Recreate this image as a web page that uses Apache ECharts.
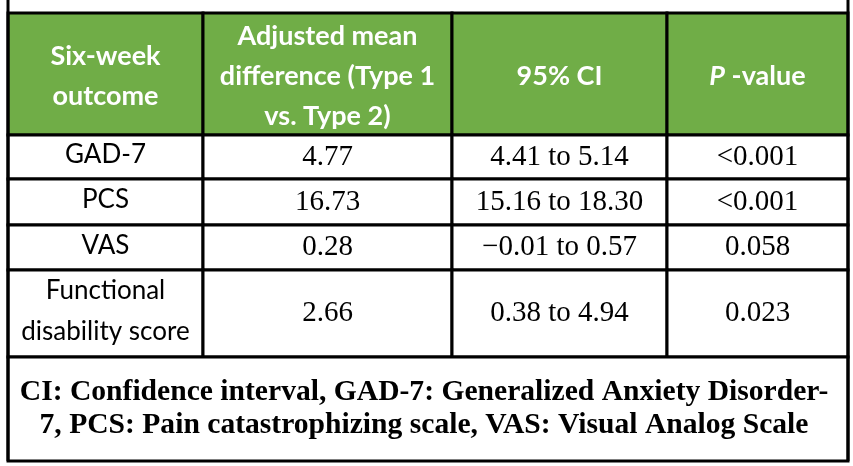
<!DOCTYPE html>
<html>
<head>
<meta charset="utf-8">
<script src="https://cdn.jsdelivr.net/npm/echarts@6/dist/echarts.min.js"></script>
<style>
	html, body { margin: 0; padding: 0; background: #fff; }
	#container { width: 853px; height: 466px; }
</style>
</head>
<body>
<div id="container"></div>
<script>
	// 表格数据
	var headers = ['Six-week\noutcome', 'Adjusted mean\ndifference (Type 1\nvs. Type 2)', '95% CI', '{i|P}{n| -value}'];
	var outcomes = ['GAD-7', 'PCS', 'VAS', 'Functional\ndisability score'];
	var meanDiff = [4.77, 16.73, 0.28, 2.66];
	var ciLow = [4.41, 15.16, -0.01, 0.38];
	var ciHigh = [5.14, 18.30, 0.57, 4.94];
	var pValues = ['<0.001', '<0.001', '0.058', '0.023'];
	var footnote = 'CI: Confidence interval, GAD-7: Generalized Anxiety Disorder-\n7, PCS: Pain catastrophizing scale, VAS: Visual Analog Scale';

	// 版式 (grid 坐标)
	var colEdges = [0, 195, 444, 659, 840];
	var rowEdges = [0, 122, 166, 212, 257, 344, 448];
	var green = '#70AD47';

	function fmt(v) {
		var s = v.toFixed(2);
		return v < 0 ? '\u2212' + s.slice(1) : s;
	}

	// 单元格: [col0, col1, row, text]
	var cells = [];
	headers.forEach(function (h, c) { cells.push([c, c + 1, 0, h]); });
	outcomes.forEach(function (o, i) {
		var r = i + 1;
		cells.push([0, 1, r, o]);
		cells.push([1, 2, r, fmt(meanDiff[i])]);
		cells.push([2, 3, r, fmt(ciLow[i]) + ' to ' + fmt(ciHigh[i])]);
		cells.push([3, 4, r, pValues[i]]);
	});
	cells.push([0, 4, 5, footnote]);

	function renderCell(params, api) {
		var c0 = api.value(0), c1 = api.value(1), r = api.value(2);
		var text = cells[params.dataIndex][3];
		var p0 = api.coord([colEdges[c0], rowEdges[r]]);
		var p1 = api.coord([colEdges[c1], rowEdges[r + 1]]);
		var w = p1[0] - p0[0], h = p1[1] - p0[1];
		var cx = p0[0] + w / 2, cy = p0[1] + h / 2;
		var style;
		if (r === 0) {
			style = {
				text: text, x: cx, y: cy + 2, align: 'center', verticalAlign: 'middle',
				fontFamily: 'Lato', fontWeight: 'bold', fontSize: 27, lineHeight: 40, fill: '#fff',
				rich: {
					i: { fontFamily: 'Lato', fontWeight: 'bold', fontStyle: 'italic', fontSize: 27, fill: '#fff' },
					n: { fontFamily: 'Lato', fontWeight: 'bold', fontSize: 27, fill: '#fff' }
				}
			};
		} else if (r === 5) {
			style = {
				text: text, x: cx - 4, y: cy, align: 'center', verticalAlign: 'middle',
				fontFamily: 'Liberation Serif', fontWeight: 'bold', fontSize: 29.6, lineHeight: 33, fill: '#000'
			};
		} else if (c0 === 0) {
			style = {
				text: text, x: cx, y: cy - 2, align: 'center', verticalAlign: 'middle',
				fontFamily: 'Lato', fontSize: 26, lineHeight: 41, fill: '#000'
			};
		} else {
			style = {
				text: text, x: cx, y: cy, align: 'center', verticalAlign: 'middle',
				fontFamily: 'Liberation Serif', fontSize: 29, fill: '#000'
			};
		}
		return {
			type: 'group',
			children: [
				{
					type: 'rect',
					shape: { x: p0[0], y: p0[1], width: w, height: h },
					style: { fill: r === 0 ? green : '#fff', stroke: '#000', lineWidth: 3 }
				},
				{ type: 'text', style: style }
			]
		};
	}

	// 外框竖线
	function renderFrame(params, api) {
		var top = api.coord([api.value(0), -13]);
		var bottom = api.coord([api.value(0), rowEdges[rowEdges.length - 1]]);
		return {
			type: 'line',
			shape: { x1: top[0], y1: top[1], x2: bottom[0], y2: bottom[1] },
			style: { stroke: '#000', lineWidth: 3 }
		};
	}

	var option = {
		animation: false,
		grid: { left: 8, top: 13, width: 840, height: 448 },
		xAxis: { type: 'value', min: 0, max: 840, show: false },
		yAxis: { type: 'value', min: 0, max: 448, inverse: true, show: false },
		series: [
			{
				type: 'custom',
				renderItem: renderCell,
				data: cells.map(function (d) { return [d[0], d[1], d[2]]; }),
				clip: false
			},
			{
				type: 'custom',
				renderItem: renderFrame,
				data: [[colEdges[0]], [colEdges[colEdges.length - 1]]],
				clip: false
			}
		]
	};

	var myChart = echarts.init(document.getElementById('container'));
	myChart.setOption(option);
</script>
</body>
</html>
